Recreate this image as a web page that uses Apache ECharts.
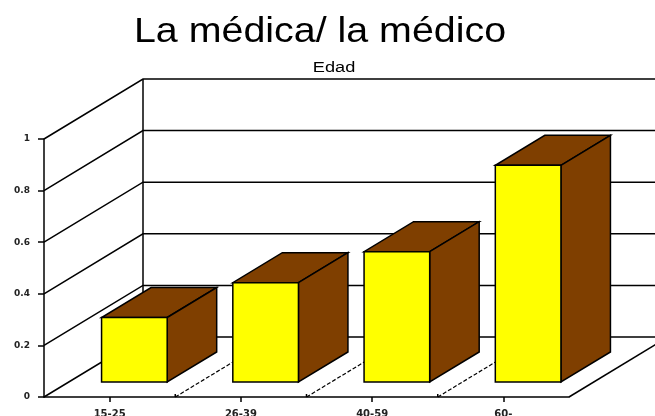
<!DOCTYPE html>
<html><head><meta charset="utf-8">
<style>html,body{margin:0;padding:0;background:#fff;overflow:hidden}#c{width:655px;height:416px;filter:blur(0.5px)}</style>
<script src="https://cdn.jsdelivr.net/npm/echarts@6/dist/echarts.min.js"></script>
</head><body><div id="c"></div>
<script>
const categories = ['15-25', '26-39', '40-59', '60-'];
const values = [0.25, 0.385, 0.505, 0.84];
const yTicks = [0, 0.2, 0.4, 0.6, 0.8, 1];
const titleText = 'La médica/ la médico';
const subtitleText = 'Edad';

const DEPTH_X = 99, DEPTH_Y = -60;
const BAR_NEAR = 0.25, BAR_FAR = 0.75, BAR_WIDTH = 0.5;
const FONT = '"Liberation Sans", Arial, sans-serif';
const LABEL_FONT = '"DejaVu Sans", sans-serif';
const LW = 1.5;
const stroke = { stroke: '#000', lineWidth: LW, lineJoin: 'miter', fill: null };
const boundaries = categories.map((c, i) => i).slice(1);

const chart = echarts.init(document.getElementById('c'), null, { renderer: 'canvas' });
chart.setOption({
  animation: false,
  backgroundColor: '#fff',
  graphic: [
    { type: 'text', x: 320, y: 32.5, scaleX: 1.125, z: 10,
      style: { text: titleText, font: '35px ' + FONT, fill: '#000', textAlign: 'center', textVerticalAlign: 'middle' } },
    { type: 'text', x: 334, y: 68, scaleX: 1.3, z: 10,
      style: { text: subtitleText, font: '14px ' + FONT, fill: '#000', textAlign: 'center', textVerticalAlign: 'middle' } }
  ],
  grid: { left: 44, right: 86, top: 139, bottom: 19, outerBoundsMode: 'none', containLabel: false },
  xAxis: {
    type: 'category', data: categories,
    axisLine: { lineStyle: { color: '#000', width: LW } },
    axisTick: { show: true, alignWithLabel: true, length: 5, lineStyle: { color: '#000', width: LW } },
    axisLabel: { fontFamily: LABEL_FONT, fontSize: 10, fontWeight: 'bold', color: '#222', margin: 12, interval: 0 },
    splitLine: { show: false }
  },
  yAxis: {
    type: 'value', min: 0, max: 1, interval: 0.2,
    axisLine: { show: true, lineStyle: { color: '#000', width: LW } },
    axisTick: { show: true, length: 6, lineStyle: { color: '#000', width: LW } },
    axisLabel: { fontFamily: LABEL_FONT, fontSize: 9, fontWeight: 'bold', color: '#222', margin: 14 },
    splitLine: { show: false }
  },
  series: [
    { // left and back walls
      type: 'custom', z: 1, silent: true,
      data: yTicks.map(v => [0, v]),
      encode: { x: 0, y: 1 },
      renderItem(params, api) {
        const size = api.size([1, 0])[0];
        const p = api.coord([0, api.value(1)]);
        const x0 = p[0] - size / 2, y = p[1];
        const xEnd = x0 + size * categories.length;
        const children = [
          { type: 'polyline', shape: { points: [[x0, y], [x0 + DEPTH_X, y + DEPTH_Y], [xEnd + DEPTH_X, y + DEPTH_Y]] }, style: stroke }
        ];
        if (params.dataIndex === 0) {
          const top = api.coord([0, 1])[1];
          children.push({ type: 'line', shape: { x1: x0 + DEPTH_X, y1: y + DEPTH_Y, x2: x0 + DEPTH_X, y2: top + DEPTH_Y }, style: stroke });
          children.push({ type: 'line', shape: { x1: xEnd, y1: y, x2: xEnd + DEPTH_X, y2: y + DEPTH_Y }, style: stroke });
        }
        return { type: 'group', children };
      }
    },
    { // dashed floor divisions
      type: 'custom', z: 2, silent: true,
      data: boundaries.map(b => [b, 0]),
      encode: { x: 0, y: 1 },
      renderItem(params, api) {
        const size = api.size([1, 0])[0];
        const p = api.coord([api.value(0), 0]);
        const x = p[0] - size / 2;
        return { type: 'group', children: [
          { type: 'line', shape: { x1: x, y1: p[1], x2: x + DEPTH_X, y2: p[1] + DEPTH_Y },
            style: { stroke: '#000', lineWidth: 1.2, lineDash: [4, 2], fill: null } },
          { type: 'line', shape: { x1: x, y1: p[1], x2: x, y2: p[1] - 3 }, style: { stroke: '#000', lineWidth: LW, fill: null } }
        ] };
      }
    },
    { // 3D bars
      type: 'custom', z: 3, silent: true,
      data: values.map((v, i) => [i, v]),
      encode: { x: 0, y: 1 },
      renderItem(params, api) {
        const size = api.size([1, 0])[0];
        const i = api.value(0);
        const base = api.coord([i, 0]);
        const top = api.coord([i, api.value(1)]);
        const w = size * BAR_WIDTH;
        const nx = DEPTH_X * BAR_NEAR, ny = DEPTH_Y * BAR_NEAR;
        const sx = DEPTH_X * (BAR_FAR - BAR_NEAR), sy = DEPTH_Y * (BAR_FAR - BAR_NEAR);
        const l = base[0] - w / 2 + nx, r = l + w;
        const b = base[1] + ny, t = top[1] + ny;
        const style = c => ({ fill: c, stroke: '#000', lineWidth: LW, lineJoin: 'miter' });
        return { type: 'group', children: [
          { type: 'polygon', shape: { points: [[l, t], [r, t], [r + sx, t + sy], [l + sx, t + sy]] }, style: style('#7F3F00') },
          { type: 'polygon', shape: { points: [[r, t], [r + sx, t + sy], [r + sx, b + sy], [r, b]] }, style: style('#7F3F00') },
          { type: 'rect', shape: { x: l, y: t, width: w, height: b - t }, style: style('#FFFF00') }
        ] };
      }
    }
  ]
});
</script></body></html>
